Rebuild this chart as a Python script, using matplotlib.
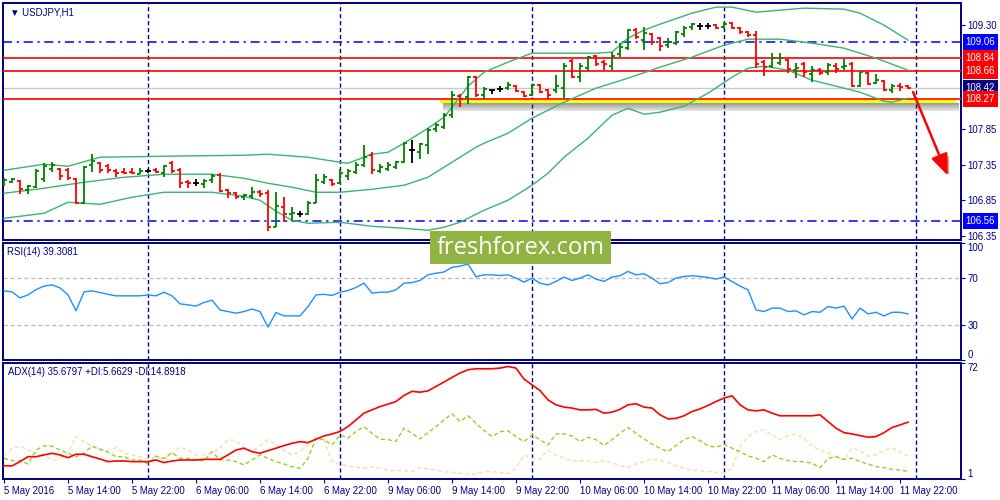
import numpy as np
import matplotlib.pyplot as plt
from matplotlib.patches import Rectangle, FancyArrowPatch
import matplotlib.patheffects as pe

plt.rcParams['font.family'] = ['Liberation Sans', 'DejaVu Sans']

# USDJPY H1, бари з 5 May 06:00 до 11 May 23:00
opens = [107.074, 107.102, 107.116, 106.990, 107.032, 107.144, 107.284, 107.284, 107.270, 107.144,
         106.808, 107.340, 107.368, 107.326, 107.256, 107.242, 107.242, 107.214, 107.256, 107.270,
         107.228, 107.368, 107.270, 107.102, 107.088, 107.074, 107.130, 107.200, 106.990, 106.948,
         106.892, 106.906, 106.962, 106.948, 106.472, 106.752, 106.654, 106.654, 106.654, 106.808,
         107.102, 107.130, 107.088, 107.186, 107.242, 107.340, 107.480, 107.256, 107.284, 107.312,
         107.382, 107.550, 107.522, 107.620, 107.844, 107.872, 108.040, 108.306, 108.292, 108.572,
         108.320, 108.390, 108.404, 108.418, 108.446, 108.362, 108.320, 108.460, 108.390, 108.390,
         108.418, 108.796, 108.572, 108.698, 108.866, 108.782, 108.726, 108.894, 108.978, 109.230,
         109.090, 109.174, 109.118, 109.020, 109.048, 109.174, 109.272, 109.286, 109.286, 109.300,
         109.272, 109.328, 109.258, 109.202, 109.160, 108.782, 108.726, 108.768, 108.810, 108.670,
         108.754, 108.614, 108.670, 108.642, 108.726, 108.712, 108.754, 108.446, 108.628, 108.488,
         108.516, 108.390, 108.446, 108.446]
highs = [107.158, 107.158, 107.130, 107.060, 107.284, 107.368, 107.382, 107.298, 107.298, 107.158,
         107.326, 107.494, 107.382, 107.354, 107.284, 107.298, 107.298, 107.298, 107.284, 107.298,
         107.340, 107.396, 107.298, 107.130, 107.144, 107.144, 107.214, 107.228, 107.004, 106.962,
         106.934, 107.032, 106.990, 106.990, 106.962, 106.892, 106.752, 106.696, 106.836, 107.214,
         107.214, 107.144, 107.284, 107.284, 107.382, 107.620, 107.522, 107.354, 107.382, 107.396,
         107.662, 107.690, 107.648, 107.858, 107.928, 108.068, 108.376, 108.334, 108.586, 108.586,
         108.432, 108.390, 108.446, 108.502, 108.460, 108.376, 108.474, 108.474, 108.404, 108.600,
         108.768, 108.824, 108.768, 108.866, 108.880, 108.810, 108.922, 109.048, 109.244, 109.258,
         109.272, 109.188, 109.132, 109.118, 109.216, 109.286, 109.328, 109.328, 109.328, 109.314,
         109.342, 109.342, 109.272, 109.216, 109.216, 108.810, 108.908, 108.908, 108.838, 108.768,
         108.782, 108.726, 108.698, 108.768, 108.768, 108.824, 108.782, 108.642, 108.642, 108.614,
         108.530, 108.474, 108.488, 108.460]
lows = [107.046, 107.088, 106.934, 106.934, 107.018, 107.102, 107.242, 107.130, 107.130, 106.794,
        106.794, 107.242, 107.228, 107.228, 107.172, 107.214, 107.214, 107.214, 107.228, 107.228,
        107.172, 107.228, 107.018, 107.018, 107.046, 107.018, 107.088, 106.962, 106.878, 106.864,
        106.850, 106.864, 106.892, 106.416, 106.472, 106.542, 106.556, 106.612, 106.640, 106.808,
        107.074, 107.046, 107.074, 107.130, 107.214, 107.312, 107.214, 107.228, 107.256, 107.284,
        107.368, 107.368, 107.424, 107.494, 107.802, 107.844, 107.998, 108.152, 108.194, 108.292,
        108.264, 108.334, 108.362, 108.390, 108.362, 108.292, 108.306, 108.348, 108.264, 108.348,
        108.278, 108.558, 108.502, 108.656, 108.726, 108.670, 108.670, 108.852, 108.950, 109.104,
        108.950, 109.020, 108.936, 108.978, 109.020, 109.132, 109.230, 109.230, 109.244, 109.244,
        109.244, 109.244, 109.174, 109.132, 108.698, 108.586, 108.698, 108.740, 108.628, 108.558,
        108.572, 108.502, 108.600, 108.600, 108.628, 108.670, 108.432, 108.432, 108.460, 108.474,
        108.376, 108.348, 108.376, 108.404]
closes = [107.130, 107.144, 107.004, 107.046, 107.256, 107.326, 107.340, 107.186, 107.158, 106.808,
          107.312, 107.396, 107.270, 107.270, 107.228, 107.228, 107.228, 107.256, 107.256, 107.242,
          107.326, 107.256, 107.088, 107.088, 107.088, 107.116, 107.186, 106.976, 106.948, 106.892,
          106.920, 106.962, 106.934, 106.472, 106.766, 106.654, 106.668, 106.654, 106.808, 107.130,
          107.172, 107.074, 107.228, 107.256, 107.340, 107.452, 107.270, 107.312, 107.340, 107.382,
          107.648, 107.550, 107.634, 107.830, 107.900, 108.040, 108.320, 108.264, 108.572, 108.320,
          108.404, 108.390, 108.404, 108.460, 108.376, 108.306, 108.460, 108.362, 108.320, 108.446,
          108.726, 108.572, 108.726, 108.852, 108.754, 108.754, 108.866, 108.992, 109.230, 109.132,
          109.188, 109.062, 109.006, 109.062, 109.202, 109.258, 109.314, 109.286, 109.286, 109.258,
          109.314, 109.258, 109.202, 109.160, 108.754, 108.712, 108.838, 108.838, 108.684, 108.698,
          108.642, 108.670, 108.628, 108.740, 108.684, 108.726, 108.446, 108.642, 108.474, 108.530,
          108.390, 108.446, 108.432, 108.420]

# Bollinger Bands (20), прочитані по точках
bb_up_x = [0, 5, 8, 12, 20, 30, 33, 38, 42, 43, 46, 48, 50, 53, 55, 56, 58, 60, 63, 66, 70, 74,
           76, 78, 80, 82, 86, 89, 91, 94, 100, 105, 107, 110, 113]
bb_up = [107.270, 107.354, 107.326, 107.452, 107.466, 107.480, 107.494, 107.452, 107.382, 107.368,
         107.494, 107.522, 107.648, 107.858, 108.012, 108.152, 108.446, 108.642, 108.782, 108.908,
         108.908, 108.908, 108.922, 109.118, 109.230, 109.314, 109.468, 109.552, 109.552, 109.482,
         109.538, 109.524, 109.468, 109.300, 109.090]
bb_mid_x = [0, 5, 10, 15, 20, 26, 30, 33, 36, 39, 42, 46, 50, 53, 56, 59, 60, 63, 66, 70, 74, 78,
            82, 86, 90, 93, 97, 101, 105, 109, 113]
bb_mid = [106.948, 107.018, 107.102, 107.172, 107.214, 107.214, 107.158, 107.088, 107.032, 106.962,
          106.962, 107.004, 107.060, 107.172, 107.382, 107.592, 107.648, 107.788, 107.998, 108.222,
          108.418, 108.558, 108.712, 108.852, 109.020, 109.104, 109.104, 109.048, 108.978, 108.838,
          108.670]
bb_low_x = [0, 5, 8, 12, 16, 20, 26, 30, 32, 34, 36, 38, 42, 46, 50, 53, 55, 57, 59, 60, 63, 66,
            68, 70, 73, 76, 78, 80, 82, 85, 88, 91, 93, 95, 98, 101, 104, 107, 110, 111, 113]
bb_low = [106.598, 106.668, 106.822, 106.794, 106.892, 106.962, 106.962, 106.906, 106.850, 106.696,
          106.570, 106.528, 106.542, 106.486, 106.458, 106.430, 106.472, 106.542, 106.654, 106.710,
          106.850, 107.060, 107.228, 107.452, 107.718, 108.040, 108.138, 108.054, 108.082, 108.166,
          108.348, 108.572, 108.698, 108.726, 108.670, 108.530, 108.446, 108.362, 108.236, 108.222,
          108.278]

rsi = [59, 58, 53, 55.5, 60, 63, 64, 61.5, 55.5, 42,
       58, 59, 57.5, 56, 54.7, 54.7, 54.7, 54.7, 55.5, 54.7,
       57.8, 54.7, 47.9, 47, 46, 49, 51, 42.7, 41.3, 39.9,
       41.3, 43.5, 41.3, 28, 40.5, 37.6, 37.6, 37.6, 45.6, 55.5,
       56, 55, 57.8, 59.2, 61.8, 65.5, 57, 57.8, 57.8, 59.8,
       65.5, 66, 67.8, 72.6, 74, 75, 79, 80, 81.8, 71,
       72.6, 72.6, 72, 72.6, 69.8, 66.4, 69.8, 65.5, 64, 67,
       70.7, 67.8, 69.8, 72.6, 69, 67, 70.7, 71.8, 75.5, 72.6,
       73.5, 69.8, 65, 66, 69.8, 71.2, 71.8, 71.2, 70.4, 69,
       70.7, 67, 63, 59.8, 42.7, 41.3, 44.2, 44.2, 41.3, 41.9,
       38.5, 41.3, 40.7, 45.6, 44.2, 46, 35, 44.2, 39.3, 40.7,
       37.6, 40.7, 40.7, 39.31]

adx = [9.1, 9, 11.6, 14.6, 14.6, 15.7, 16.7, 15.7, 14, 16.1,
       16.1, 14.6, 13.2, 11.6, 12, 12, 11.6, 11.6, 11.6, 12.6,
       11, 12, 12.6, 12.6, 12.6, 13, 13, 13, 15.7, 18.7,
       19.8, 17.7, 16.7, 18.3, 19.8, 21.4, 22.8, 23.8, 23.2, 25.3,
       27.3, 28.5, 30, 33, 37.1, 41.2, 43.2, 45.2, 46.7, 48.3,
       52, 54.5, 54, 54.8, 57.5, 60.2, 63, 65.7, 67.7, 68.3,
       68.3, 68.3, 68.7, 69.7, 68.7, 62, 58.5, 55, 49.3, 46.3,
       44.9, 44.3, 43.2, 43.2, 43.5, 41.2, 41.8, 43.5, 46.3, 46.9,
       44.9, 44.3, 40.2, 37.7, 38, 39.6, 42.2, 43.8, 45.9, 48.3,
       50.4, 51.8, 46.3, 43.2, 42.6, 43.2, 41.2, 39.6, 39.6, 39.6,
       39.6, 39.6, 40.2, 36.1, 32, 29.3, 28.5, 27.5, 26.5, 26.9,
       29.3, 32.4, 34, 35.68]
plus_di = [13.6, 12.2, 12.2, 10.2, 18.7, 21.2, 21, 18.7, 16.7, 14.6,
           16.7, 21, 19.3, 17.3, 14.6, 14.6, 12.6, 12.6, 10.2, 15,
           13.6, 17.1, 13.6, 13.6, 12.6, 12, 17.7, 12.6, 12.6, 11.6,
           9.6, 12.6, 15.7, 13.6, 11.6, 10.2, 8.5, 7.5, 13.6, 25.9,
           25, 21.8, 27.9, 25.9, 30, 33, 28.9, 25.3, 25, 24,
           32, 28.9, 25.5, 29.3, 33, 37.1, 40.8, 36.1, 39.6, 35,
           30.6, 26.9, 29.9, 30.4, 26.9, 23.8, 27.9, 25, 21.8, 28.5,
           28.5, 27.3, 23.8, 26.5, 25, 21.4, 25, 28.9, 32.4, 28.9,
           25.5, 22.2, 19.8, 17.7, 21.4, 25, 26.9, 24.4, 21.2, 20.4,
           22.2, 19.8, 17.7, 15.1, 13.6, 11.6, 15.7, 13.6, 12.2, 11.6,
           11.6, 10.6, 7.9, 13.6, 14.6, 13, 13.6, 11.6, 10.2, 8.5,
           7.9, 6.9, 6.5, 5.66]
minus_di = [15, 19.8, 21, 18.7, 16.7, 15.7, 12.2, 13.6, 16.7, 26.9,
            23.8, 21, 18.7, 18.3, 20.2, 16.7, 15.7, 14.6, 13.6, 14.6,
            13, 16.7, 20.4, 18.7, 15.7, 15.7, 16.7, 19.8, 25, 24.4,
            19.8, 17.7, 21.2, 25, 21.8, 18.7, 15.7, 17.7, 21.8, 25.9,
            25, 11.6, 10.2, 9, 8.2, 7.5, 8.5, 7.5, 6.5, 6.1,
            6.1, 5.5, 7.9, 7.2, 6.5, 5.5, 5.1, 4.5, 3.9, 4,
            5.5, 5.5, 4.9, 4.1, 7.5, 15.7, 13.6, 13.2, 18.7, 15.7,
            13.6, 12, 12, 12, 11, 12.2, 11, 9, 8.2, 10.2,
            11.6, 13.2, 12.6, 11, 9, 7.5, 6.5, 6.1, 5.5, 5.1,
            4.5, 7.5, 21, 26.9, 30, 31, 27.9, 25, 27.3, 28.5,
            25.9, 21, 18.7, 16.7, 14.6, 12.6, 19.8, 18.3, 15, 15.7,
            18.7, 19.8, 17.7, 14.89]

time_labels = ['5 May 2016', '5 May 14:00', '5 May 22:00', '6 May 06:00', '6 May 14:00',
               '6 May 22:00', '9 May 06:00', '9 May 14:00', '9 May 22:00', '10 May 06:00',
               '10 May 14:00', '10 May 22:00', '11 May 06:00', '11 May 14:00', '11 May 22:00']
day_starts = [18, 42, 66, 90, 114]

# рівні на графіку
blue_levels = [109.06, 106.56]
red_levels = [108.84, 108.66, 108.27]
bid = 108.42
price_ticks = [109.30, 107.85, 107.35, 106.85, 106.35]

# жовта зона і стрілка
zone_x = (54.5, 119.0)
zone_y = (108.212, 108.27)
arrow_from = (113.5, 108.40)
arrow_to = (118.1, 107.16)

navy = '#000080'
fs = 6.9

n = len(closes)
bars = np.arange(n)
o = np.array(opens)
c = np.array(closes)
cols = np.where(c > o, '#008000', np.where(c < o, '#FF0000', '#000000'))

fig = plt.figure(figsize=(10, 5), dpi=100)
ax = fig.add_axes([0.003, 0.52, 0.958, 0.474])
ax_rsi = fig.add_axes([0.003, 0.28, 0.958, 0.2346])
ax_adx = fig.add_axes([0.003, 0.042, 0.958, 0.2326])

for a in (ax, ax_rsi, ax_adx):
    a.set_xlim(-0.125, 119.625)
    for s in a.spines.values():
        s.set_color(navy)
        s.set_linewidth(1.4)
    a.yaxis.tick_right()
    a.tick_params(axis='y', colors=navy, labelcolor=navy, labelsize=fs, length=3, width=0.8, pad=1.5)
    for d in day_starts:
        a.axvline(d, color=navy, lw=1, ls=(0, (3, 2)), zorder=1)

# --- основне вікно ---
ax.set_ylim(106.294, 109.61)
ax.set_xticks([])
ax.set_yticks(price_ticks)
ax.set_yticklabels(['%.2f' % p for p in price_ticks])

for lv in blue_levels:
    ax.axhline(lv, color='#0000FF', lw=1.1, ls=(0, (6, 3, 1.5, 3)), zorder=2)
ax.axhline(bid, color='#C8C8C8', lw=1, zorder=2)

# тінь і жовта зона
for k in range(10):
    ax.add_patch(Rectangle((zone_x[0] + 0.4, zone_y[0] - 0.012 * (k + 1)),
                           zone_x[1] - zone_x[0], 0.012 * (k + 1),
                           color='#505050', alpha=0.075, lw=0, zorder=2))
ax.add_patch(Rectangle((zone_x[0], zone_y[0]), zone_x[1] - zone_x[0], zone_y[1] - zone_y[0],
                       color='#FFFF00', lw=0, zorder=2.5))
for lv in red_levels:
    ax.axhline(lv, color='#FF0000', lw=1.2, zorder=3)

ax.plot(bb_up_x, bb_up, color='#3CB371', lw=1, zorder=3)
ax.plot(bb_mid_x, bb_mid, color='#3CB371', lw=1, zorder=3)
ax.plot(bb_low_x, bb_low, color='#3CB371', lw=1, zorder=3)

ax.vlines(bars, lows, highs, colors=cols, lw=1.3, zorder=4)
ax.hlines(opens, bars - 0.4, bars, colors=cols, lw=1.3, zorder=4)
ax.hlines(closes, bars, bars + 0.4, colors=cols, lw=1.3, zorder=4)

arr = FancyArrowPatch(arrow_from, arrow_to, arrowstyle='-|>,head_length=0.8,head_width=0.32',
                      mutation_scale=16, color='#FF0000', lw=1.8, zorder=6)
arr.set_path_effects([pe.SimplePatchShadow(offset=(2, -2), alpha=0.35), pe.Normal()])
ax.add_patch(arr)

boxes = [(blue_levels[0], '#0000FF'), (red_levels[0], '#FF0000'), (red_levels[1], '#FF0000'),
         (bid, navy), (red_levels[2], '#FF0000'), (blue_levels[1], '#0000FF')]
for lv, col in boxes:
    ax.annotate('%.2f' % lv, xy=(1, lv), xycoords=ax.get_yaxis_transform(),
                xytext=(3.2, 0), textcoords='offset points', ha='left', va='center',
                fontsize=fs, color='white', annotation_clip=False,
                bbox=dict(boxstyle='square,pad=0.3', fc=col, ec='none'))

ax.text(0.007, 0.962, '▼ USDJPY,H1', transform=ax.transAxes, fontsize=fs, color=navy, va='center')

# --- RSI ---
ax_rsi.set_ylim(0, 100)
ax_rsi.set_xticks([])
ax_rsi.set_yticks([0, 30, 70, 100])
ax_rsi.set_yticklabels(['0', '30', '70', '100'])
lbl = ax_rsi.get_yticklabels()
lbl[0].set_va('bottom')
lbl[-1].set_va('top')
for lv in (30, 70):
    ax_rsi.axhline(lv, color='#C0C0C0', lw=1, ls=(0, (3, 2)), zorder=1)
ax_rsi.plot(bars, rsi, color='#1E90FF', lw=1, zorder=3)
ax_rsi.text(0.004, 0.92, 'RSI(14) 39.3081', transform=ax_rsi.transAxes, fontsize=fs, color=navy, va='center')

# --- ADX ---
ax_adx.set_ylim(1, 72)
ax_adx.set_yticks([1, 72])
ax_adx.set_yticklabels(['1', '72'])
lbl = ax_adx.get_yticklabels()
lbl[0].set_va('bottom')
lbl[-1].set_va('top')
ax_adx.plot(bars, minus_di, color='#F5DEB3', lw=1, ls=(0, (3, 2)), zorder=2)
ax_adx.plot(bars, plus_di, color='#9ACD32', lw=1, ls=(0, (3, 2)), zorder=2)
ax_adx.plot(bars, adx, color='#FF0000', lw=1.2, zorder=3)
ax_adx.text(0.005, 0.92, 'ADX(14) 35.6797 +DI:5.6629 -DI:14.8918', transform=ax_adx.transAxes,
            fontsize=fs, color=navy, va='center')
ax_adx.set_xticks(bars[::8])
ax_adx.set_xticklabels(time_labels, ha='left')
ax_adx.tick_params(axis='x', colors=navy, labelcolor=navy, labelsize=fs, length=3, width=0.8, pad=2)

# логотип
fig.patches.append(Rectangle((0.43, 0.472), 0.181, 0.066, transform=fig.transFigure,
                             color='#8FB443', lw=0, zorder=10))
fig.text(0.5205, 0.503, 'freshforex.com', fontsize=17, color='white', ha='center', va='center',
         family=['Open Sans', 'DejaVu Sans'], zorder=11)

fig.savefig('out.png', dpi=100, facecolor='white')
